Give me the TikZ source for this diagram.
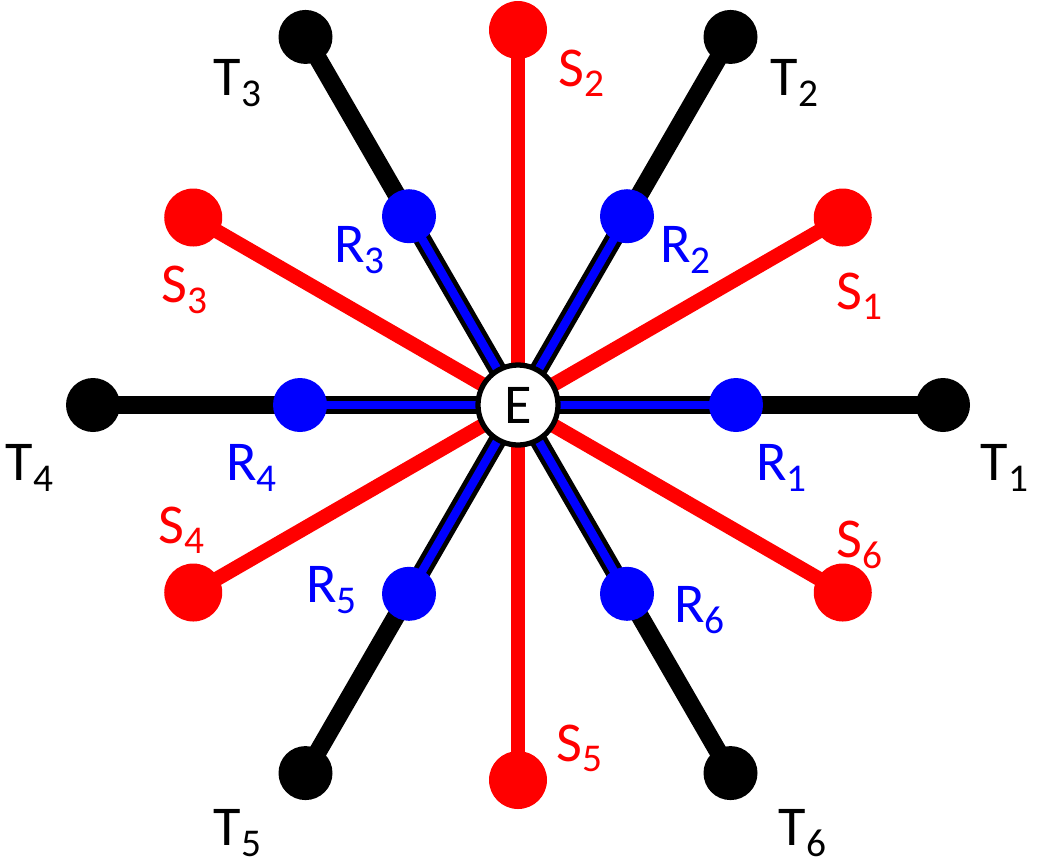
\documentclass[tikz,border=0pt]{standalone}
\usepackage{fontspec}
\setmainfont{Carlito}
\usetikzlibrary{calc}
\begin{document}
\begin{tikzpicture}[x=0.02cm,y=-0.02cm,
  dotT/.style={circle,fill=black,minimum size=54*0.02cm,inner sep=0pt},
  dotS/.style={circle,fill=red,minimum size=58*0.02cm,inner sep=0pt},
  dotR/.style={circle,fill=blue,minimum size=54*0.02cm,inner sep=0pt},
  lab/.style={font=\fontsize{32}{38}\selectfont,inner sep=0pt},
  redl/.style={red,line width=0.29cm},
  blackl/.style={black,line width=0.36cm},
  bluel/.style={blue,line width=0.17cm}]
\useasboundingbox (0,0) rectangle (1037,863);
\coordinate (C) at (518,405);
\foreach \i/\a in {1/0,2/60,3/120,4/180,5/240,6/300}{
  \coordinate (T\i) at ($(C)+(\a:425 and -425)$);
  \coordinate (R\i) at ($(C)+(\a:218 and -218)$);
}
\foreach \i/\a in {1/30,2/90,3/150,4/210,5/270,6/330}{
  \coordinate (S\i) at ($(C)+(\a:375 and -375)$);
}
\foreach \i in {1,...,6}{\draw[redl] (C) -- (S\i);}
\foreach \i in {1,...,6}{\draw[blackl] (C) -- (T\i);}
\foreach \i in {1,...,6}{\draw[bluel] (C) -- (R\i);}
\foreach \i in {1,...,6}{
  \node[dotT] (t\i) at (T\i) {};
  \node[dotS] (s\i) at (S\i) {};
  \node[dotR] (r\i) at (R\i) {};
}
\node[circle,draw=black,line width=3pt,fill=white,minimum size=80*0.02cm,inner sep=0pt,font=\fontsize{32}{38}\selectfont] (E) at (C) {E};
\node[lab] (lt1) at (1005,468) {T\textsubscript{1}};
\node[lab] (lt2) at (795,83) {T\textsubscript{2}};
\node[lab] (lt3) at (238,83) {T\textsubscript{3}};
\node[lab] (lt4) at (30,468) {T\textsubscript{4}};
\node[lab] (lt5) at (238,833) {T\textsubscript{5}};
\node[lab] (lt6) at (803,833) {T\textsubscript{6}};
\begin{scope}[red]
\node[lab] (ls1) at (860,296) {S\textsubscript{1}};
\node[lab] (ls2) at (582,73) {S\textsubscript{2}};
\node[lab] (ls3) at (185,290) {S\textsubscript{3}};
\node[lab] (ls4) at (182,530) {S\textsubscript{4}};
\node[lab] (ls5) at (580,748) {S\textsubscript{5}};
\node[lab] (ls6) at (860,545) {S\textsubscript{6}};
\end{scope}
\begin{scope}[blue]
\node[lab] (lr1) at (782,468) {R\textsubscript{1}};
\node[lab] (lr2) at (686,250) {R\textsubscript{2}};
\node[lab] (lr3) at (360,250) {R\textsubscript{3}};
\node[lab] (lr4) at (252,468) {R\textsubscript{4}};
\node[lab] (lr5) at (332,590) {R\textsubscript{5}};
\node[lab] (lr6) at (700,610) {R\textsubscript{6}};
\end{scope}
\end{tikzpicture}
\end{document}
